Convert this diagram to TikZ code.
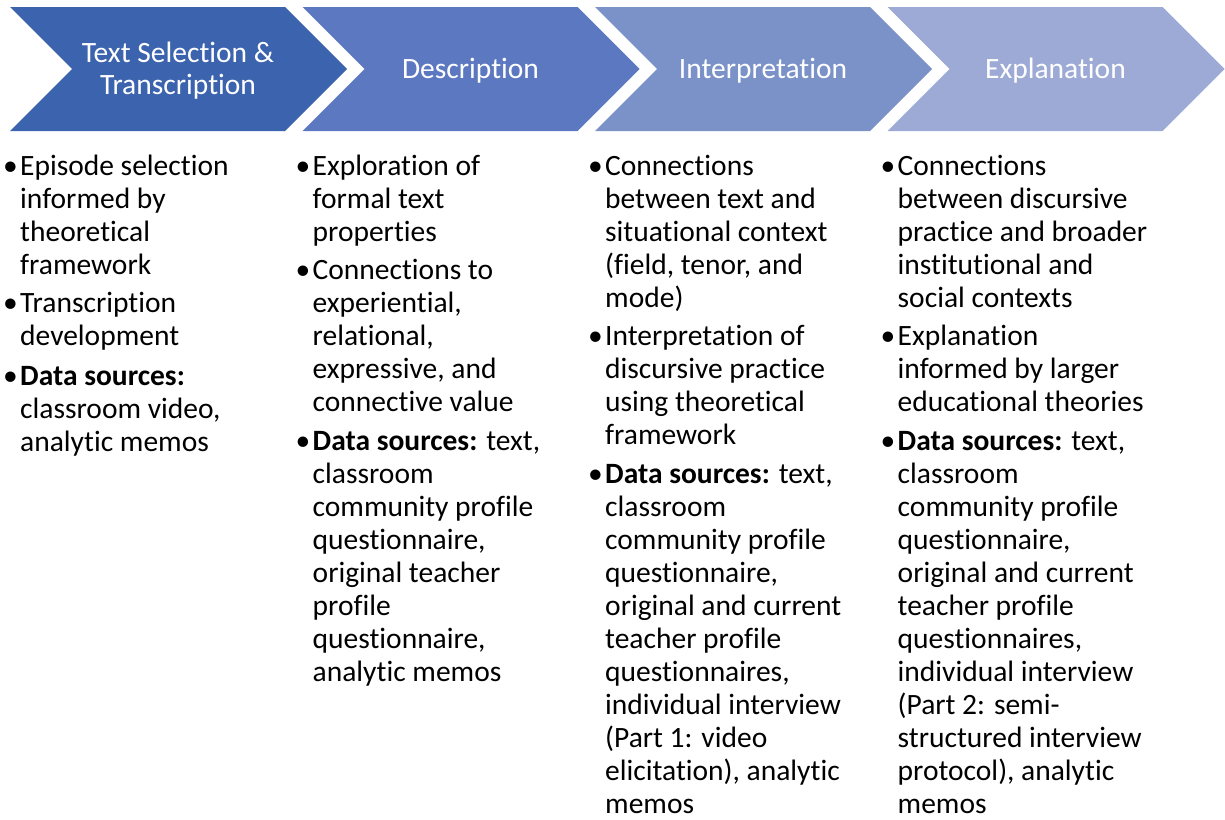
\documentclass[tikz,border=0pt]{standalone}
\usepackage{fontspec}
\setmainfont[Ligatures=NoCommon]{Carlito}
\definecolor{stepA}{RGB}{60,99,174}
\definecolor{stepB}{RGB}{92,120,193}
\definecolor{stepC}{RGB}{122,146,200}
\definecolor{stepD}{RGB}{158,170,214}
\tikzset{
  head/.style={text=white, align=center, inner sep=0pt, font=\fontsize{29.5}{32}\selectfont},
  item/.style={anchor=north west, align=left, inner sep=0pt, font=\fontsize{29.5}{33}\selectfont},
}
\newcommand{\bul}{\strut\llap{•\hspace{2.5pt}}}

\begin{document}
\begin{tikzpicture}[x=1pt,y=1pt]
\useasboundingbox (0,0) rectangle (1225,-819);
% chevrons
\foreach \x/\c in {10/stepA, 302.5/stepB, 595/stepC, 887.5/stepD}
  \fill[\c] (\x,-7) -- ++(275,0) -- ++(62,-62) -- ++(-62,-62) -- ++(-275,0) -- ++(62,62) -- cycle;
\node[head] (h1) at (178,-71) {Text Selection \&\\Transcription};
\node[head] (h2) at (470.5,-71) {Description};
\node[head] (h3) at (763,-71) {Interpretation};
\node[head] (h4) at (1055.5,-71) {Explanation};
% column 1
\node[item] (a1) at (20,-152) {\bul Episode selection\\informed by\\theoretical\\framework};
\node[item] (a2) at (20,-289) {\bul Transcription\\development};
\node[item] (a3) at (20,-362) {\bul\textbf{Data sources:}\\classroom video,\\analytic memos};
% column 2
\node[item] (b1) at (312.5,-152) {\bul Exploration of\\formal text\\properties};
\node[item] (b2) at (312.5,-256) {\bul Connections to\\experiential,\\relational,\\expressive, and\\connective value};
\node[item] (b3) at (312.5,-427) {\bul\textbf{Data sources:} text,\\classroom\\community profile\\questionnaire,\\original teacher\\profile\\questionnaire,\\analytic memos};
% column 3
\node[item] (c1) at (605,-152) {\bul Connections\\between text and\\situational context\\(field, tenor, and\\mode)};
\node[item] (c2) at (605,-322) {\bul Interpretation of\\discursive practice\\using theoretical\\framework};
\node[item] (c3) at (605,-460) {\bul\textbf{Data sources:} text,\\classroom\\community profile\\questionnaire,\\original and current\\teacher profile\\questionnaires,\\individual interview\\(Part 1: video\\elicitation), analytic\\memos};
% column 4
\node[item] (d1) at (897.5,-152) {\bul Connections\\between discursive\\practice and broader\\institutional and\\social contexts};
\node[item] (d2) at (897.5,-322) {\bul Explanation\\informed by larger\\educational theories};
\node[item] (d3) at (897.5,-427) {\bul\textbf{Data sources:} text,\\classroom\\community profile\\questionnaire,\\original and current\\teacher profile\\questionnaires,\\individual interview\\(Part 2: semi-\\structured interview\\protocol), analytic\\memos};
\end{tikzpicture}
\end{document}
